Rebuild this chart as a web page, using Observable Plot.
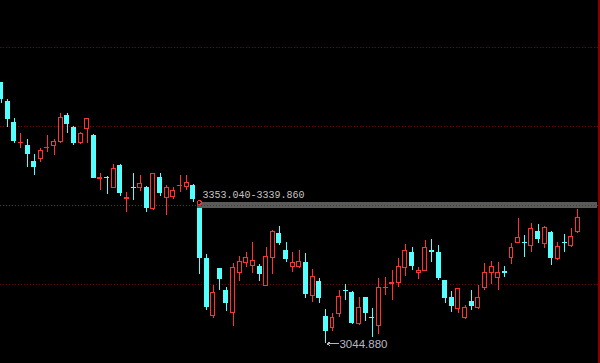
<!DOCTYPE html>
<html><head><meta charset="utf-8">
<script src="https://cdn.jsdelivr.net/npm/d3@7"></script>
<script src="https://cdn.jsdelivr.net/npm/@observablehq/plot@0.6"></script>
<style>html,body{margin:0;padding:0;background:#000;overflow:hidden}#chart svg{display:block;shape-rendering:crispEdges}</style>
</head><body><div id="chart"></div>
<script>
const open  = [3612.5,3573.2,3527.4,3481.7,3477.3,3442.4,3446.8,3470.8,3477.3,3486.0,
               3542.7,3516.5,3481.7,3512.2,3499.1,3404.8,3407.5,3385.7,3433.7,3360.7,
               3385.7,3385.7,3385.7,3337.8,3407.5,3363.9,3366.1,3389.0,3387.9,3390.1,
               3339.0,3228.8,3106.7,3207.0,3161.2,3113.2,3198.3,3222.2,3215.7,3213.5,
               3172.1,3231.0,3283.3,3248.4,3213.5,3213.5,3222.2,3150.3,3180.8,3104.5,
               3080.5,3108.9,3161.2,3156.8,3087.1,3143.8,3101.3,3084.9,3166.6,3175.4,
               3176.5,3211.3,3241.9,3198.3,3204.8,3247.3,3244.0,3183.0,3145.9,3119.8,
               3102.3,3137.2,3124.1,3165.6,3198.3,3187.4,3201.5,3231.0,3265.8,3264.7,
               3259.3,3289.8,3261.5,3287.6,3228.8,3264.7,3259.3,3289.8];
const high  = [3614.6,3577.6,3536.2,3503.5,3490.4,3457.7,3470.8,3499.1,3490.4,3547.1,
               3547.1,3518.7,3505.6,3536.2,3501.3,3416.3,3409.7,3435.9,3435.9,3374.8,
               3416.3,3411.9,3387.9,3416.3,3416.3,3390.1,3385.7,3411.9,3411.9,3392.3,
               3339.86,3239.7,3172.1,3209.2,3167.7,3220.1,3235.3,3244.0,3265.8,3217.9,
               3254.9,3292.0,3300.7,3265.8,3244.0,3248.4,3241.9,3207.0,3187.4,3119.8,
               3111.1,3161.2,3174.3,3159.0,3145.9,3144.8,3122.0,3187.4,3189.5,3204.8,
               3231.0,3261.5,3254.9,3211.3,3270.2,3272.4,3259.3,3184.0,3159.0,3165.6,
               3128.5,3161.2,3172.1,3220.1,3224.4,3222.2,3213.5,3263.7,3318.2,3281.1,
               3307.3,3305.1,3300.7,3289.8,3265.8,3283.3,3296.4,3338.0];
const low   = [3568.9,3516.5,3481.7,3470.8,3429.3,3411.9,3440.2,3462.0,3455.5,3481.7,
               3503.5,3477.3,3479.5,3481.7,3405.4,3379.2,3370.5,3385.0,3366.1,3331.2,
               3357.4,3377.0,3331.2,3335.6,3366.1,3324.7,3359.6,3374.8,3379.2,3353.04,
               3196.1,3117.6,3100.2,3161.2,3115.4,3082.7,3180.8,3211.3,3198.3,3180.8,
               3169.9,3196.1,3259.3,3222.2,3200.4,3209.2,3143.8,3135.0,3132.9,3044.88,
               3071.8,3102.3,3139.4,3087.1,3084.9,3093.6,3058.7,3065.3,3150.3,3139.4,
               3167.7,3191.7,3204.8,3185.2,3202.6,3222.2,3183.0,3132.9,3113.2,3111.1,
               3098.0,3117.6,3119.8,3161.2,3174.3,3161.2,3189.5,3217.9,3264.7,3233.1,
               3244.0,3263.7,3252.8,3215.7,3226.6,3244.0,3254.9,3285.5];
const close = [3577.6,3534.0,3488.2,3483.8,3457.7,3431.5,3466.4,3472.9,3486.0,3538.3,
               3523.1,3483.8,3501.3,3535.5,3407.5,3405.4,3406.8,3425.0,3374.8,3361.8,
               3384.6,3392.3,3342.1,3414.1,3372.7,3385.7,3379.2,3390.1,3394.5,3359.6,
               3231.0,3126.3,3154.7,3185.2,3135.0,3211.3,3224.4,3233.1,3226.6,3196.1,
               3235.3,3289.8,3263.7,3228.8,3220.1,3224.4,3152.5,3191.7,3145.9,3074.0,
               3100.2,3148.1,3160.1,3089.3,3124.1,3113.2,3100.2,3165.6,3167.7,3176.5,
               3213.5,3248.4,3215.7,3204.8,3254.9,3246.2,3187.4,3145.9,3128.5,3163.4,
               3122.0,3128.5,3145.9,3200.4,3213.5,3200.4,3200.4,3254.9,3276.7,3263.7,
               3294.2,3272.4,3296.4,3233.1,3257.1,3263.7,3278.9,3318.2];
const gridLevels = [3690.3, 3518.1, 3345.8, 3173.6];

const UP = "#ff3232", DOWN = "#54ffff", GRID = "#800000";
const data = open.map((o, i) => ({i, open: o, high: high[i], low: low[i], close: close[i], up: close[i] >= o}));
const ups = data.filter(d => d.up), downs = data.filter(d => !d.up);

// price gap: candle 30 opens below the previous candle's low
const gi = 30;
const gap = [{x1: gi - 0.3, x2: 90, y1: high[gi], y2: low[gi - 1]}];
const gapLabel = `${d3.format(".3f")(low[gi - 1])}-${d3.format(".3f")(high[gi])}`;
const mi = d3.minIndex(low);
const minLabel = d3.format(".3f")(low[mi]);
const hw = 0.3;

const chart = Plot.plot({
  width: 600, height: 363,
  marginTop: 0, marginRight: 0, marginBottom: 0, marginLeft: 0,
  style: {background: "#000", overflow: "hidden"},
  x: {domain: [0, 87], range: [0.5, 577.3], axis: null},
  y: {domain: [3002.06, 3793.4], axis: null},
  marks: [
    Plot.ruleY(gridLevels, {stroke: GRID, strokeDasharray: "1,2", strokeWidth: 1}),
    Plot.rect(gap, {x1: "x1", x2: "x2", y1: "y1", y2: "y2", fill: "#5a5a5a"}),
    Plot.ruleY(gridLevels.slice(2, 3), {stroke: "#6e2a2a", strokeDasharray: "1,2", strokeWidth: 1}),
    Plot.ruleX([90.2], {stroke: "#8a0000", strokeWidth: 1.5}),
    Plot.ruleX(data, {x: "i", y1: "low", y2: "high", stroke: d => d.up ? UP : DOWN, strokeWidth: 1}),
    Plot.rect(ups, {x1: d => d.i - hw, x2: d => d.i + hw, y1: "open", y2: "close", fill: "#000", stroke: UP, strokeWidth: 1}),
    Plot.rect(downs, {x1: d => d.i - hw, x2: d => d.i + hw, y1: "open", y2: "close", fill: DOWN, stroke: DOWN, strokeWidth: 1}),
    Plot.dot([{x: gi - 0.1, y: low[gi - 1]}], {x: "x", y: "y", r: 2, stroke: UP, fill: "#000", strokeWidth: 1}),
    Plot.text([gapLabel], {x: gi - hw, y: low[gi - 1], text: d => d, dx: 4.5, dy: -4.5, textAnchor: "start", lineAnchor: "bottom",
      fill: "#c4c4c4", fontFamily: "Liberation Mono, DejaVu Sans Mono, monospace", fontSize: 10}),
    Plot.arrow([{x1: mi + 1.85, x2: mi + 0.2, y: low[mi]}], {x1: "x1", x2: "x2", y1: "y", y2: "y", stroke: "#b4b8c4", strokeWidth: 1, headLength: 5, headAngle: 70}),
    Plot.text([minLabel], {x: mi + 2.05, y: low[mi], text: d => d, textAnchor: "start", lineAnchor: "middle",
      fill: "#b4b8c4", fontFamily: "Liberation Sans, Arial, sans-serif", fontSize: 11.5})
  ]
});
document.getElementById("chart").appendChild(chart);
</script>
</body></html>
